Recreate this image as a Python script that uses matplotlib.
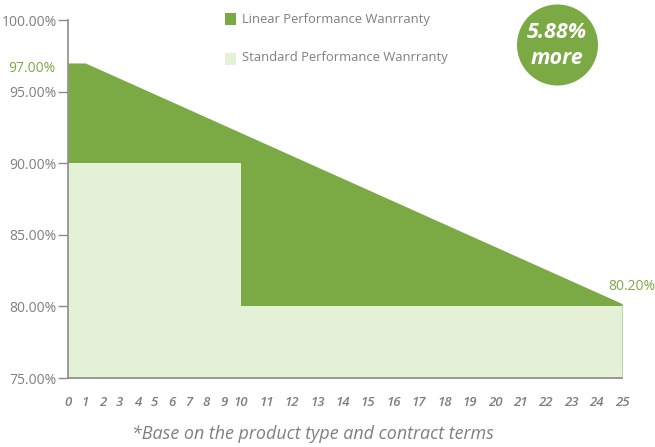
import numpy as np
import matplotlib
matplotlib.use("Agg")
import matplotlib.pyplot as plt
from matplotlib.patches import Circle, Rectangle

years = list(range(0, 26))
linear_years = [0, 1, 25]
linear_values = [97.0, 97.0, 80.2]
standard_years = [0, 10, 25]
standard_values = [90.0, 80.0, 80.0]
ytick_values = [75, 80, 85, 90, 95, 100]
ytick_labels = ["75.00%", "80.00%", "85.00%", "90.00%", "95.00%", "100.00%"]
series_names = ["Linear Performance Wanrranty", "Standard Performance Wanrranty"]
badge_lines = ["5.88%", "more"]
footnote = "*Base on the product type and contract terms"

DARK = "#7BAA44"
LIGHT = "#E4F1D7"
GRAY = "#7F7F7F"
AXGRAY = "#8C8C8C"

plt.rcParams['font.family'] = ['Open Sans', 'DejaVu Sans']

fig = plt.figure(figsize=(6.55, 4.47), dpi=100)
ax = fig.add_axes([68/655, 1-378/447, (622-68)/655, (378-20)/447])

K = (622 - 241) / 15.0 / ((241 - 68) / 10.0)
def fwd(x):
    x = np.asarray(x, dtype=float)
    return np.where(x <= 10, x, 10 + (x - 10) * K)
def inv(y):
    y = np.asarray(y, dtype=float)
    return np.where(y <= 10, y, 10 + (y - 10) / K)
ax.set_xscale('function', functions=(fwd, inv))

ax.fill_between(linear_years, linear_values, 75, color=DARK, lw=0, zorder=1)
ax.fill_between(standard_years, standard_values, 75, step='post', color=LIGHT, lw=0, zorder=2)

ax.set_xlim(0, 25)
ax.set_ylim(75, 100)

for s in ['top', 'right']:
    ax.spines[s].set_visible(False)
for s in ['left', 'bottom']:
    ax.spines[s].set_color(AXGRAY)
    ax.spines[s].set_linewidth(1.2)

ax.set_yticks(ytick_values)
ax.set_yticklabels(ytick_labels)
ax.tick_params(axis='y', direction='out', length=7, width=1, color=AXGRAY,
               labelcolor=GRAY, labelsize=10, pad=1)
ax.set_xticks(years)
ax.set_xticklabels([str(y) for y in years], fontstyle='italic', fontweight='semibold')
ax.tick_params(axis='x', length=0, labelcolor=GRAY, labelsize=9.5, pad=13)
ax.minorticks_off()

# value annotations
fig.text(8/655, 1-68/447, "97.00%", color=DARK, fontsize=10, ha='left', va='center')
fig.text(632/655, 1-286/447, "80.20%", color=DARK, fontsize=10, ha='center', va='center')

# legend
fig.add_artist(Rectangle((225/655, 1-25/447), 11/655, 12/447, color=DARK,
                         transform=fig.transFigure, lw=0))
fig.add_artist(Rectangle((225/655, 1-65/447), 11/655, 12/447, color=LIGHT,
                         transform=fig.transFigure, lw=0))
fig.text(242/655, 1-19/447, series_names[0], color=GRAY, fontsize=9.4, va='center', ha='left')
fig.text(242/655, 1-58/447, series_names[1], color=GRAY, fontsize=9.4, va='center', ha='left')

# badge
fig.add_artist(Circle((5.575, 4.47 - 0.45), 0.405, color=DARK, lw=0,
                      transform=fig.dpi_scale_trans))
fig.text(557/655, 1-33/447, badge_lines[0], color='white', fontsize=15.5,
         fontweight='bold', fontstyle='italic', ha='center', va='center')
fig.text(557/655, 1-59/447, badge_lines[1], color='white', fontsize=15.5,
         fontweight='bold', fontstyle='italic', ha='center', va='center')

fig.text(313/655, 1-434/447, footnote, color=GRAY, fontsize=12.9,
         fontstyle='italic', ha='center', va='center')

fig.savefig("out.png", dpi=100)
